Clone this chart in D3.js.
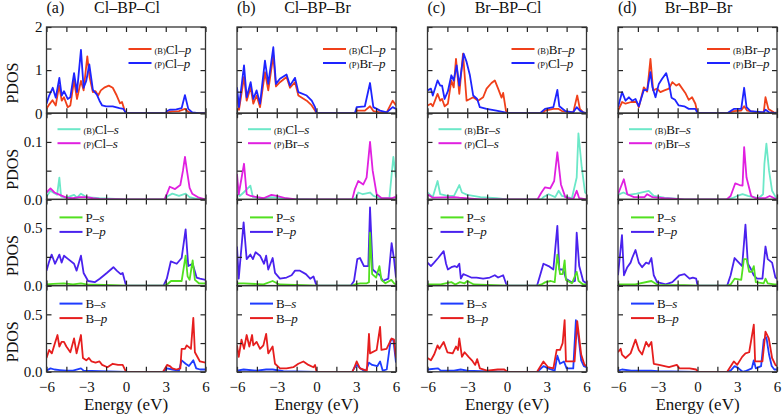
<!DOCTYPE html>
<html><head><meta charset="utf-8">
<script src="https://cdn.jsdelivr.net/npm/d3@7"></script>
<style>
body{margin:0;background:#fff}
svg{display:block}
</style>
</head><body>
<svg id="c" width="782" height="415"></svg>
<script>
// ---------- labels ----------
const panelLabels = ["(a)","(b)","(c)","(d)"];
const panelTitles = ["Cl–BP–Cl","Cl–BP–Br","Br–BP–Cl","Br–BP–Br"];
const xTickValues = [-6,-4.5,-3,-1.5,0,1.5,3,4.5,6];
const xTickLabels = [-6,-3,0,3,6];
const yDomains = [[0,2],[0,0.15],[0,0.75],[0,0.75]];
const yTickValues = [[0,0.5,1,1.5,2],[0,0.05,0.1,0.15],[0,0.25,0.5,0.75],[0,0.25,0.5,0.75]];
const yTickLabels = [[0,1,2],[0,0.1],[0,0.5],[0,0.5]];
const legendRow1 = [[["(B)","Cl–","p"],["(P)","Cl–","p"]],[["(B)","Cl–","p"],["(P)","Br–","p"]],[["(B)","Br–","p"],["(P)","Cl–","p"]],[["(B)","Br–","p"],["(P)","Br–","p"]]];
const legendRow2 = [[["(B)","Cl–","s"],["(P)","Cl–","s"]],[["(B)","Cl–","s"],["(P)","Br–","s"]],[["(B)","Br–","s"],["(P)","Cl–","s"]],[["(B)","Br–","s"],["(P)","Br–","s"]]];
const legendRow3 = [["","P–","s"],["","P–","p"]];
const legendRow4 = [["","B–","s"],["","B–","p"]];
const rowColors = [["#f0401a","#1e24ff"],["#6ce8c8","#e020e0"],["#52e020","#4a22ee"],["#1e3cff","#e61e1e"]];

// ---------- data: [energy eV, PDOS] ----------
// (a) Cl–BP–Cl
const a1_B = [[-6,0.1],[-5.8,0.2],[-5.55,0.3],[-5.3,0.18],[-5.05,0.64],[-4.85,0.29],[-4.68,0.37],[-4.4,0.14],[-4.2,0.18],[-3.92,0.76],[-3.7,0.33],[-3.4,0.75],[-3.2,0.53],[-2.92,1.32],[-2.75,0.84],[-2.5,0.49],[-2.3,0.51],[-2.1,0.41],[-1.9,0.53],[-1.6,0.6],[-1.3,0.64],[-1.0,0.59],[-0.7,0.41],[-0.45,0.23],[-0.3,0.26],[-0.1,0.06],[0,0],[3.0,0],[3.1,0.02],[3.5,0.04],[4.0,0.05],[4.45,0.1],[4.7,0.03],[5.0,0],[6,0]];
const a1_P = [[-6,0.22],[-5.8,0.41],[-5.53,0.59],[-5.3,0.36],[-5.03,0.82],[-4.85,0.41],[-4.68,0.51],[-4.4,0.33],[-4.2,0.37],[-3.92,0.93],[-3.7,0.49],[-3.4,1.47],[-3.2,0.59],[-3.0,0.75],[-2.77,1.13],[-2.5,0.54],[-2.2,0.43],[-2.0,0.29],[-1.8,0.18],[-1.5,0.16],[-1.0,0.16],[-0.5,0.12],[-0.2,0.1],[0,0],[3.0,0],[3.1,0.05],[3.3,0.08],[3.8,0.09],[4.2,0.12],[4.45,0.42],[4.7,0.1],[5.0,0.02],[5.5,0],[6,0]];
const a2_B = [[-6,0.005],[-5.7,0.015],[-5.5,0.012],[-5.2,0.008],[-5.03,0.038],[-4.9,0.005],[-4.5,0.003],[-3.92,0.008],[-3.7,0.003],[-3.4,0.01],[-3.0,0.004],[-2,0.002],[0,0],[3.0,0],[3.1,0.005],[3.5,0.01],[4.0,0.006],[4.5,0.01],[4.8,0.004],[5.5,0],[6,0]];
const a2_P = [[-6,0.012],[-5.7,0.019],[-5.4,0.012],[-5.0,0.008],[-4.5,0.003],[-4,0.002],[-3.5,0.004],[-3,0.004],[-2.5,0.002],[-2,0.001],[0,0],[2.9,0],[3.1,0.01],[3.3,0.022],[3.7,0.018],[4.1,0.025],[4.3,0.05],[4.45,0.074],[4.6,0.05],[4.8,0.02],[5.0,0.01],[5.5,0.003],[6,0]];
const a3_s = [[-6,0.01],[-5.5,0.015],[-4.7,0.02],[-4,0.01],[-3.4,0.02],[-3,0.01],[-1,0.005],[0,0],[2.9,0],[3.1,0.01],[3.4,0.04],[4.2,0.04],[4.5,0.26],[4.65,0.08],[4.8,0.05],[5.03,0.22],[5.2,0.05],[5.5,0.02],[6,0.02]];
const a3_p = [[-6,0.13],[-5.8,0.21],[-5.61,0.27],[-5.36,0.19],[-5.03,0.27],[-4.86,0.2],[-4.68,0.26],[-4.36,0.23],[-3.92,0.19],[-3.73,0.13],[-3.4,0.26],[-3.2,0.11],[-2.86,0.04],[-2.36,0.03],[-1.98,0.06],[-1.45,0.11],[-0.95,0.16],[-0.7,0.13],[-0.4,0.1],[-0.25,0.11],[0,0],[2.83,0],[3.08,0.06],[3.38,0.21],[3.83,0.19],[4.2,0.24],[4.5,0.49],[4.7,0.17],[5.03,0.19],[5.33,0.07],[5.58,0.06],[6,0.05]];
const a4_s = [[-6,0.01],[-5.7,0.03],[-5.4,0.02],[-5,0.015],[-4.5,0.01],[-4,0.01],[-3.4,0.03],[-3.2,0.01],[-2,0.005],[0,0],[2.8,0],[3.1,0.03],[3.5,0.02],[4,0.01],[4.2,0.1],[4.5,0.07],[4.75,0.05],[5.08,0.1],[5.3,0.03],[5.6,0.02],[6,0.02]];
const a4_p = [[-6,0.12],[-5.8,0.19],[-5.6,0.16],[-5.36,0.25],[-5.17,0.32],[-5.03,0.22],[-4.86,0.26],[-4.68,0.26],[-4.5,0.22],[-4.2,0.17],[-3.92,0.29],[-3.73,0.16],[-3.4,0.32],[-3.25,0.12],[-3.0,0.1],[-2.8,0.12],[-2.6,0.09],[-2.3,0.08],[-2.0,0.09],[-1.8,0.06],[-1.4,0.04],[-1.0,0.07],[-0.6,0.06],[-0.25,0.06],[0,0],[2.8,0],[3.1,0.06],[3.3,0.05],[3.5,0.03],[3.8,0.02],[4.1,0.03],[4.2,0.2],[4.45,0.2],[4.58,0.23],[4.9,0.2],[5.08,0.47],[5.2,0.17],[5.58,0.09],[6,0.08]];
// (b) Cl–BP–Br
const b1_B = [[-6,0.41],[-5.85,0.08],[-5.47,0.84],[-5.27,0.29],[-4.97,0.6],[-4.77,0.22],[-4.52,0.41],[-4.26,0.14],[-3.89,0.95],[-3.64,0.53],[-3.26,1.34],[-3.06,0.62],[-2.76,0.72],[-2.26,0.84],[-2.0,0.59],[-1.62,0.72],[-1.37,0.41],[-0.74,0.29],[-0.36,0.18],[-0.11,0.06],[0,0],[2.9,0],[3.03,0.06],[3.65,0.06],[4.04,0.16],[4.29,0.05],[4.8,0.02],[5.3,0.02],[5.75,0.29],[6,0.18]];
const b1_P = [[-6,0.6],[-5.85,0.14],[-5.47,1.11],[-5.27,0.37],[-4.97,0.72],[-4.77,0.33],[-4.52,0.53],[-4.26,0.22],[-3.89,1.22],[-3.64,0.68],[-3.26,1.53],[-3.06,0.68],[-2.76,0.8],[-2.26,0.9],[-2.0,0.64],[-1.62,0.82],[-1.37,0.49],[-0.74,0.41],[-0.36,0.29],[-0.11,0.14],[0,0],[2.9,0],[3.03,0.14],[3.65,0.16],[4.04,0.7],[4.29,0.14],[4.8,0.06],[5.3,0.02],[5.75,0.14],[6,0.1]];
const b2_B = [[-6,0.015],[-5.8,0.006],[-5.5,0.012],[-4.99,0.024],[-4.8,0.004],[-4,0.002],[-3.4,0.004],[-2,0.001],[0,0],[2.8,0],[3.0,0.004],[3.15,0.012],[3.5,0.009],[4.04,0.012],[4.3,0.006],[4.8,0.002],[5.5,0.002],[5.8,0.074],[6,0.038]];
const b2_P = [[-6,0.044],[-5.87,0.009],[-5.47,0.062],[-5.27,0.009],[-4.97,0.006],[-4,0.002],[-3.4,0.008],[-3.0,0.006],[-2.3,0.002],[-1.5,0],[0,0],[2.7,0],[2.9,0.018],[3.15,0.032],[3.53,0.026],[3.78,0.038],[4.04,0.1],[4.24,0.05],[4.54,0.009],[4.92,0.002],[5.67,0.002],[5.92,0.004],[6,0.003]];
const b3_s = [[-6,0.02],[-5.5,0.02],[-4,0.01],[-3.31,0.04],[-2.8,0.01],[-1,0.005],[0,0],[2.7,0],[2.9,0.01],[3.3,0.02],[3.8,0.02],[3.96,0.03],[4.04,0.46],[4.2,0.1],[4.5,0.07],[4.75,0.17],[4.9,0.05],[5.2,0.02],[5.65,0.05],[5.85,0.02],[6,0.01]];
const b3_p = [[-6,0.34],[-5.87,0.06],[-5.5,0.55],[-5.27,0.23],[-4.99,0.27],[-4.8,0.23],[-4.6,0.29],[-4.26,0.26],[-3.96,0.19],[-3.8,0.26],[-3.64,0.14],[-3.31,0.24],[-3.13,0.11],[-2.76,0.06],[-2.26,0.07],[-1.88,0.09],[-1.62,0.13],[-1.25,0.13],[-0.8,0.1],[-0.48,0.06],[-0.23,0.08],[0,0],[2.6,0],[2.83,0.04],[3.08,0.23],[3.28,0.24],[3.58,0.17],[3.91,0.17],[4.04,0.68],[4.24,0.14],[4.54,0.11],[4.8,0.09],[5.0,0.04],[5.42,0.06],[5.67,0.37],[5.85,0.23],[6,0.07]];
const b4_s = [[-6,0.01],[-5.5,0.02],[-4.5,0.01],[-3.8,0.02],[-3.3,0.02],[-2.5,0.005],[0,0],[2.7,0],[2.83,0.03],[3.05,0.06],[3.3,0.03],[3.7,0.0],[3.96,0.08],[4.2,0.06],[4.6,0.05],[4.8,0.09],[5.0,0.01],[5.3,0.02],[5.6,0.28],[5.8,0.28],[6,0.08]];
const b4_p = [[-6,0.23],[-5.87,0.13],[-5.66,0.28],[-5.47,0.2],[-5.27,0.32],[-5.07,0.22],[-4.86,0.32],[-4.77,0.23],[-4.52,0.26],[-4.26,0.2],[-4.01,0.23],[-3.8,0.33],[-3.64,0.16],[-3.31,0.22],[-3.13,0.07],[-2.76,0.03],[-2.26,0.03],[-1.75,0.04],[-1.37,0.07],[-0.99,0.09],[-0.61,0.06],[-0.23,0.04],[-0.11,0.06],[0,0],[2.7,0],[2.83,0.03],[3.03,0.09],[3.28,0.03],[3.8,0.01],[3.96,0.33],[4.04,0.16],[4.54,0.19],[4.8,0.39],[4.9,0.19],[5.29,0.2],[5.67,0.29],[5.85,0.28],[6,0.12]];
// (c) Br–BP–Cl
const c1_B = [[-6,0.18],[-5.74,0.22],[-5.6,0.16],[-5.24,0.45],[-5.04,0.29],[-4.9,0.33],[-4.71,0.16],[-4.46,0.22],[-4.2,0.76],[-4.02,0.6],[-3.85,1.26],[-3.6,0.45],[-3.32,1.38],[-3.05,0.29],[-2.8,0.33],[-2.55,0.37],[-2.18,0.29],[-1.8,0.37],[-1.54,0.57],[-1.17,0.7],[-0.92,0.76],[-0.67,0.57],[-0.41,0.36],[-0.29,0.47],[-0.08,0.06],[0,0],[2.7,0],[2.87,0.06],[3.5,0.1],[3.9,0.1],[4.15,0.05],[5.0,0.02],[5.3,0.41],[5.5,0.1],[5.75,0.02],[6,0]];
const c1_P = [[-6,0.53],[-5.74,0.57],[-5.6,0.41],[-5.24,0.76],[-5.04,0.64],[-4.9,0.64],[-4.71,0.33],[-4.46,0.51],[-4.2,0.88],[-4.02,0.76],[-3.8,1.11],[-3.6,0.64],[-3.27,1.38],[-3.05,1.19],[-2.8,0.88],[-2.55,0.41],[-2.25,0.33],[-2.05,0.14],[-1.54,0.1],[-0.8,0.06],[-0.16,0.02],[0,0],[2.5,0],[2.87,0.1],[3.5,0.14],[3.8,0.54],[3.95,0.16],[4.4,0.05],[5.0,0.02],[5.26,0.14],[5.5,0.06],[5.75,0.02],[6,0]];
const c2_B = [[-6,0.012],[-5.6,0.004],[-5.24,0.032],[-5.04,0.009],[-4.5,0.006],[-4.0,0.006],[-3.6,0.025],[-3.4,0.012],[-3.0,0.008],[-2.0,0.004],[-0.8,0.002],[0,0],[2.6,0],[2.75,0.004],[3.14,0.009],[3.64,0.004],[3.9,0.015],[4.15,0.006],[4.9,0.002],[5.26,0.038],[5.39,0.115],[5.64,0.056],[5.89,0.012],[6,0.01]];
const c2_P = [[-6,0.009],[-5.6,0.003],[-4,0.004],[-3.6,0.003],[-2,0],[0,0],[2.3,0],[2.6,0.012],[2.87,0.021],[3.26,0.019],[3.56,0.032],[3.8,0.082],[4.07,0.026],[4.4,0.004],[5.0,0],[5.26,0.015],[5.45,0.002],[6,0]];
const c3_s = [[-6,0.01],[-5,0.01],[-4.2,0.03],[-3.9,0.01],[-3.55,0.03],[-3.2,0.02],[-3.0,0.04],[-2.5,0.01],[-1,0.005],[0,0],[2.3,0],[2.6,0.01],[2.9,0.03],[3.3,0.04],[3.6,0.03],[3.8,0.27],[4.0,0.1],[4.2,0.1],[4.35,0.22],[4.45,0.05],[4.9,0.02],[5.26,0.12],[5.4,0.04],[5.75,0.01],[6,0.01]];
const c3_p = [[-6,0.2],[-5.74,0.17],[-5.5,0.2],[-5.2,0.24],[-4.78,0.3],[-4.6,0.19],[-4.46,0.14],[-4.2,0.16],[-3.95,0.17],[-3.78,0.16],[-3.6,0.19],[-3.48,0.06],[-3.3,0.1],[-3.08,0.09],[-2.7,0.07],[-2.3,0.07],[-1.8,0.06],[-1.3,0.07],[-0.92,0.09],[-0.67,0.07],[-0.29,0.09],[-0.08,0.02],[0,0],[2.27,0],[2.5,0.09],[2.75,0.19],[3.14,0.17],[3.5,0.14],[3.8,0.52],[3.95,0.14],[4.25,0.14],[4.45,0.06],[4.88,0.03],[5.13,0.04],[5.26,0.46],[5.45,0.17],[5.75,0.04],[6,0.02]];
const c4_s = [[-6,0.02],[-5.2,0.03],[-5,0.01],[-4,0.01],[-3.5,0.02],[-3,0.01],[-2,0.005],[0,0],[2.3,0],[2.75,0.05],[3.1,0.03],[3.6,0.01],[3.8,0.14],[4.0,0.07],[4.3,0.09],[4.5,0.03],[5.0,0.03],[5.2,0.45],[5.4,0.3],[5.6,0.1],[5.8,0.05],[6,0.04]];
const c4_p = [[-6,0.12],[-5.74,0.1],[-5.5,0.15],[-5.24,0.23],[-5.1,0.2],[-4.78,0.26],[-4.5,0.17],[-4.1,0.16],[-3.85,0.22],[-3.7,0.19],[-3.6,0.29],[-3.4,0.13],[-3.2,0.17],[-2.9,0.13],[-2.65,0.1],[-2.4,0.06],[-2.25,0.11],[-2.05,0.03],[-1.5,0.01],[-0.7,0.02],[-0.2,0.02],[0,0],[2.27,0],[2.75,0.09],[3.1,0.04],[3.5,0.03],[3.75,0.19],[4.0,0.19],[4.2,0.25],[4.35,0.45],[4.45,0.09],[5.1,0.09],[5.3,0.44],[5.6,0.15],[5.85,0.06],[6,0.05]];
// (d) Br–BP–Br
const d1_B = [[-6,0.06],[-5.69,0.26],[-5.43,0.22],[-5.0,0.26],[-4.6,0.26],[-4.43,0.14],[-4.05,0.6],[-3.8,0.5],[-3.55,1.26],[-3.35,0.53],[-3.05,0.57],[-2.8,0.49],[-2.5,0.53],[-2.15,0.57],[-1.9,0.72],[-1.6,0.64],[-1.4,0.68],[-0.92,0.47],[-0.66,0.31],[-0.41,0.37],[-0.16,0.22],[0,0],[2.3,0],[2.74,0.05],[3.3,0.06],[3.52,0.16],[3.75,0.06],[4.5,0.02],[5.0,0.02],[5.13,0.37],[5.35,0.1],[5.75,0.02],[6,0.01]];
const d1_P = [[-6,0.14],[-5.69,0.49],[-5.43,0.29],[-5.18,0.37],[-4.93,0.29],[-4.68,0.33],[-4.43,0.16],[-4.05,0.54],[-3.8,0.53],[-3.55,0.95],[-3.4,0.6],[-3.17,0.37],[-2.92,0.68],[-2.67,0.8],[-2.36,0.93],[-2.15,0.68],[-1.96,0.36],[-1.7,0.31],[-1.42,0.18],[-1.0,0.16],[-0.66,0.1],[-0.16,0.1],[0,0],[2.24,0],[2.74,0.1],[3.3,0.1],[3.52,0.59],[3.7,0.14],[4.0,0.05],[5.0,0.02],[5.13,0.08],[5.4,0.02],[6,0]];
const d2_B = [[-6,0.008],[-5.6,0.012],[-5.2,0.008],[-4.6,0.01],[-3.68,0.015],[-3.3,0.006],[-2.5,0.003],[-1,0],[0,0],[2.2,0],[2.6,0.002],[3.0,0.006],[3.4,0.009],[3.8,0.006],[4.6,0.002],[4.95,0.009],[5.05,0.062],[5.2,0.097],[5.4,0.05],[5.63,0.015],[5.9,0.004],[6,0.003]];
const d2_P = [[-6,0.009],[-5.56,0.035],[-5.3,0.009],[-4.8,0.004],[-4.0,0.004],[-3.8,0.009],[-3.4,0.004],[-2.5,0.002],[-1,0],[0,0],[2.2,0],[2.5,0.006],[2.85,0.028],[3.17,0.025],[3.4,0.024],[3.52,0.091],[3.7,0.038],[4.05,0.006],[4.4,0.002],[5.1,0.002],[5.45,0.006],[6,0]];
const d3_s = [[-6,0.01],[-5.5,0.01],[-4.7,0.01],[-3.48,0.04],[-3,0.005],[-1,0.005],[0,0],[2.24,0],[2.5,0.01],[2.8,0.06],[3.3,0.05],[3.5,0.23],[3.7,0.23],[3.9,0.12],[4.1,0.12],[4.25,0.17],[4.4,0.03],[5.0,0.02],[5.13,0.06],[5.3,0.02],[5.8,0.01],[6,0.01]];
const d3_p = [[-6,0.09],[-5.7,0.44],[-5.55,0.09],[-5.3,0.16],[-5.05,0.2],[-4.93,0.24],[-4.68,0.31],[-4.43,0.2],[-4.18,0.16],[-3.88,0.2],[-3.68,0.19],[-3.48,0.24],[-3.3,0.09],[-3.05,0.03],[-2.4,0.01],[-1.9,0.03],[-1.36,0.09],[-0.98,0.1],[-0.6,0.06],[-0.35,0.07],[-0.1,0.06],[0,0],[2.24,0],[2.5,0.09],[2.8,0.24],[3.12,0.2],[3.37,0.17],[3.62,0.53],[3.8,0.19],[4.05,0.14],[4.25,0.09],[4.5,0.06],[4.9,0.06],[5.13,0.34],[5.3,0.23],[5.63,0.2],[5.88,0.07],[6,0.06]];
const d4_s = [[-6,0.01],[-5.7,0.02],[-5,0.01],[-4,0.01],[-3.5,0.01],[-3,0.005],[0,0],[2.24,0],[2.5,0.01],[2.8,0.05],[3.1,0.03],[3.4,0.0],[3.6,0.005],[4.1,0.03],[4.25,0.1],[4.4,0.03],[4.8,0.05],[5.0,0.28],[5.2,0.3],[5.4,0.15],[5.6,0.05],[5.8,0.02],[6,0.02]];
const d4_p = [[-6,0.17],[-5.8,0.2],[-5.7,0.15],[-5.43,0.12],[-5.05,0.16],[-4.68,0.28],[-4.43,0.19],[-4.18,0.15],[-3.88,0.26],[-3.68,0.22],[-3.48,0.26],[-3.3,0.07],[-2.9,0.06],[-2.15,0.04],[-1.56,0.06],[-1.36,0.03],[-0.6,0.03],[-0.1,0.02],[0,0],[2.24,0],[2.74,0.09],[2.99,0.06],[3.37,0.13],[3.62,0.16],[3.9,0.17],[4.25,0.41],[4.35,0.09],[4.9,0.09],[5.13,0.35],[5.38,0.29],[5.63,0.12],[5.88,0.06],[6,0.05]];

const seriesGrid = [
  [[a1_B,a1_P],[a2_B,a2_P],[a3_s,a3_p],[a4_s,a4_p]],
  [[b1_B,b1_P],[b2_B,b2_P],[b3_s,b3_p],[b4_s,b4_p]],
  [[c1_B,c1_P],[c2_B,c2_P],[c3_s,c3_p],[c4_s,c4_p]],
  [[d1_B,d1_P],[d2_B,d2_P],[d3_s,d3_p],[d4_s,d4_p]]
];

// ---------- layout ----------
const FONT = '"Liberation Serif", "Times New Roman", Times, "DejaVu Serif", serif';
const svg = d3.select("#c");
const colLeft = [46.5, 237, 427.5, 618], panelW = 159;
const rowTop0 = 27, rowH = 86.2;
const fmtX = d3.format("d");
const fmtY = [d3.format("d"), d3.format(".1f"), d3.format(".1f"), d3.format(".1f")];
const legendOffsets = [{lx:82, ly:[22,36]},{lx:11, ly:[16,30]},{lx:13, ly:[18,32.5]},{lx:13, ly:[18,32.5]}];

const defs = svg.append("defs");
const txt = (sel) => sel.append("text").attr("font-family", FONT).attr("fill", "#111");

for (let c = 0; c < 4; c++) {
  const x = d3.scaleLinear().domain([-6, 6]).range([colLeft[c], colLeft[c] + panelW]);
  txt(svg).attr("x", colLeft[c]).attr("y", 13).attr("font-size", 16).text(panelLabels[c]);
  txt(svg).attr("x", colLeft[c] + panelW/2 + 1).attr("y", 13).attr("font-size", 16)
     .attr("text-anchor", "middle").text(panelTitles[c]);
  for (let r = 0; r < 4; r++) {
    const top = rowTop0 + r * rowH, bot = top + rowH;
    const y = d3.scaleLinear().domain(yDomains[r]).range([bot, top]);
    const g = svg.append("g");
    const clipId = `clip${c}${r}`;
    defs.append("clipPath").attr("id", clipId).append("rect")
      .attr("x", colLeft[c]).attr("y", top - 1).attr("width", panelW).attr("height", rowH + 1);

    const line = d3.line().x(d => x(d[0])).y(d => y(d[1]));
    const order = (r === 2) ? [1, 0] : [0, 1];
    order.forEach(k => {
      g.append("path").datum(seriesGrid[c][r][k])
        .attr("clip-path", `url(#${clipId})`)
        .attr("fill", "none").attr("stroke", rowColors[r][k]).attr("stroke-width", 1.8)
        .attr("stroke-linejoin", "round")
        .attr("d", line);
    });

    const bottomAx = d3.axisBottom(x).tickValues(xTickValues).tickSizeInner(-5).tickSizeOuter(0)
      .tickPadding(10).tickFormat(d => (r === 3 && xTickLabels.includes(d)) ? fmtX(d) : "");
    const topAx = d3.axisTop(x).tickValues(xTickValues).tickSizeInner(-5).tickSizeOuter(0).tickFormat("");
    const leftAx = d3.axisLeft(y).tickValues(yTickValues[r]).tickSizeInner(-5).tickSizeOuter(0)
      .tickPadding(4).tickFormat(d => (c === 0 && yTickLabels[r].includes(d)) ? fmtY[r](d) : "");
    const rightAx = d3.axisRight(y).tickValues(yTickValues[r]).tickSizeInner(-5).tickSizeOuter(0).tickFormat("");
    [[bottomAx, `translate(0,${bot})`],[topAx, `translate(0,${top})`],
     [leftAx, `translate(${colLeft[c]},0)`],[rightAx, `translate(${colLeft[c]+panelW},0)`]].forEach(([ax, tr]) => {
      const ag = svg.append("g").attr("transform", tr).call(ax).attr("font-family", FONT);
      ag.select(".domain").remove();
      ag.selectAll(".tick line").attr("stroke", "#222").attr("stroke-width", 1.2);
      ag.selectAll(".tick text").attr("font-size", 15).attr("font-family", FONT).attr("fill", "#111");
    });
    svg.append("rect").attr("x", colLeft[c]).attr("y", top).attr("width", panelW).attr("height", rowH)
      .attr("fill", "none").attr("stroke", "#333").attr("stroke-width", 1.3);

    const lo = legendOffsets[r];
    const entries = r === 0 ? legendRow1[c] : r === 1 ? legendRow2[c] : r === 2 ? legendRow3 : legendRow4;
    const lx = colLeft[c] + (r === 0 ? lo.lx + [0,4,2,7][c] : lo.lx);
    entries.forEach((e, k) => {
      const ly = top + lo.ly[k];
      svg.append("line").attr("x1", lx).attr("x2", lx + 23).attr("y1", ly).attr("y2", ly)
        .attr("stroke", rowColors[r][k]).attr("stroke-width", 2);
      const t = txt(svg).attr("x", lx + 26).attr("y", ly + 4.5).attr("font-size", 13);
      if (e[0]) t.append("tspan").attr("font-size", 8.5).text(e[0]);
      t.append("tspan").text(e[1]);
      t.append("tspan").attr("font-style", "italic").text(e[2]);
    });

    if (c === 0) {
      txt(svg).attr("transform", `translate(18,${(top+bot)/2 + 13}) rotate(-90)`)
        .attr("text-anchor", "middle").attr("font-size", 16).text("PDOS");
    }
  }
  txt(svg).attr("x", colLeft[c] + panelW/2).attr("y", 410).attr("text-anchor", "middle")
    .attr("font-size", 17).text("Energy (eV)");
}
</script>
</body></html>
